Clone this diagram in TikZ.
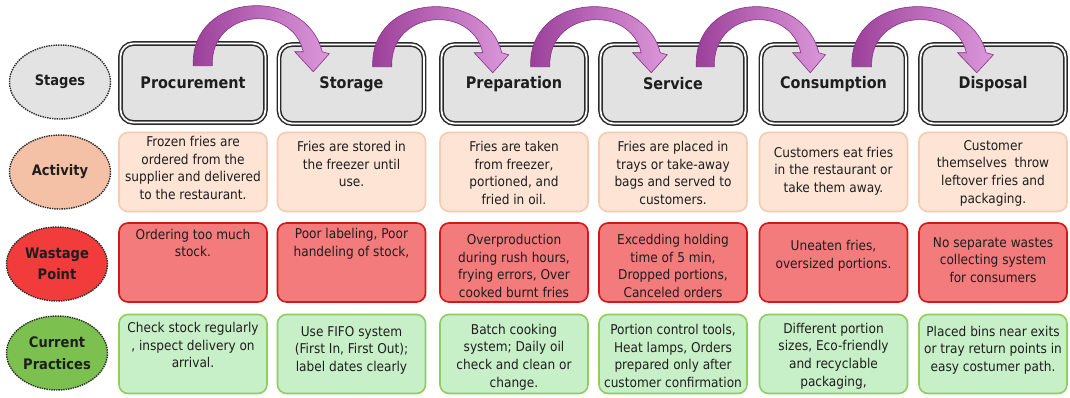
\documentclass[tikz,border=0pt]{standalone}
\usepackage{fontspec}
\setmainfont{DejaVu Sans Condensed}[BoldFont={DejaVu Sans Condensed Bold}]
\usetikzlibrary{shapes.geometric,calc}
\definecolor{txt}{HTML}{1E1E1E}
\definecolor{stagefill}{HTML}{E2E2E2}
\definecolor{stagedraw}{HTML}{2A2A2A}
\definecolor{actfill}{HTML}{FDE4D5}
\definecolor{actdraw}{HTML}{F6CBB2}
\definecolor{wasfill}{HTML}{F37B7B}
\definecolor{wasdraw}{HTML}{D21818}
\definecolor{prafill}{HTML}{C8F0C8}
\definecolor{pradraw}{HTML}{8FCD60}
\definecolor{ellgray}{HTML}{E3E3E3}
\definecolor{ellact}{HTML}{F5C1A6}
\definecolor{ellwas}{HTML}{F23B3B}
\definecolor{ellpra}{HTML}{7CC150}
\definecolor{arrL}{HTML}{9A3E98}
\definecolor{arrR}{HTML}{DC98DA}
\definecolor{arrD}{HTML}{87308A}
\begin{document}
\begin{tikzpicture}[x=1pt,y=-1pt,
  stagebox/.style={rectangle, rounded corners=13pt, draw=stagedraw, line width=1.5pt,
    double=white, double distance=1.8pt, fill=stagefill, minimum width=145pt,
    minimum height=79pt, inner sep=0pt, text=txt,
    font=\fontsize{16}{19}\selectfont\bfseries},
  cellbox/.style={rectangle, rounded corners=9pt, line width=1.6pt,
    minimum width=148pt, minimum height=79pt, inner sep=0pt},
  actbox/.style={cellbox, draw=actdraw, fill=actfill},
  wasbox/.style={cellbox, draw=wasdraw, fill=wasfill},
  prabox/.style={cellbox, draw=pradraw, fill=prafill},
  body/.style={align=center, inner sep=0pt, text=txt,
    font=\fontsize{13.5}{17.6}\selectfont},
  ell/.style={ellipse, draw=stagedraw, densely dotted, line width=1.4pt,
    minimum width=101pt, minimum height=74pt, inner sep=0pt, align=center,
    text=txt, font=\fontsize{14.5}{21.5}\selectfont\bfseries},
  flow/.style={draw=arrD, line width=0.6pt, left color=arrL, right color=arrR}
]
\fill[white] (0,0) rectangle (1070,398);
\useasboundingbox (0,0) rectangle (1070,398);

% row labels
\node[ell, fill=ellgray] (e1) at (60,82) {Stages};
\node[ell, fill=ellact]  (e2) at (60,172) {Activity};
\node[ell, fill=ellwas]  (e3) at (57,264) {Wastage\\Point};
\node[ell, fill=ellpra]  (e4) at (57,353) {Current\\Practices};

% stage boxes
\node[stagebox] (s1) at (193,83)   {Procurement};
\node[stagebox] (s2) at (351.5,84) {Storage};
\node[stagebox] (s3) at (514,84)   {Preparation};
\node[stagebox] (s4) at (673,84)   {Service};
\node[stagebox] (s5) at (833.5,84) {Consumption};
\node[stagebox] (s6) at (993,84)   {Disposal};

% activity row
\node[actbox] (a1) at (193,172)   {};
\node[actbox] (a2) at (351.5,172) {};
\node[actbox] (a3) at (514,172)   {};
\node[actbox] (a4) at (673,172)   {};
\node[actbox] (a5) at (833.5,172) {};
\node[actbox] (a6) at (993,172)   {};
\node[body] (a1t) at (193,168)   {Frozen fries are\\ordered from the\\supplier and delivered\\to the restaurant.};
\node[body] (a2t) at (351.5,164) {Fries are stored in\\the freezer until\\use.};
\node[body] (a3t) at (514,173)   {Fries are taken\\from freezer,\\portioned, and\\fried in oil.};
\node[body] (a4t) at (673,173)   {Fries are placed in\\trays or take-away\\bags and served to\\customers.};
\node[body] (a5t) at (833.5,171) {Customers eat fries\\in the restaurant or\\take them away.};
\node[body] (a6t) at (993,173)   {Customer\\themselves\ \ throw\\leftover fries and\\packaging.};

% wastage row
\node[wasbox] (w1) at (193,262.5)   {};
\node[wasbox] (w2) at (351.5,262.5) {};
\node[wasbox] (w3) at (514,262.5)   {};
\node[wasbox] (w4) at (673,262.5)   {};
\node[wasbox] (w5) at (833.5,262.5) {};
\node[wasbox] (w6) at (993,262.5)   {};
\node[body] (w1t) at (193,243)   {Ordering too much\\stock.};
\node[body] (w2t) at (351.5,244) {Poor labeling, Poor\\handeling of stock,};
\node[body] (w3t) at (514,266)   {Overproduction\\during rush hours,\\frying errors, Over\\cooked burnt fries};
\node[body] (w4t) at (673,266)   {Excedding holding\\time of 5 min,\\Dropped portions,\\Canceled orders};
\node[body] (w5t) at (833.5,256) {Uneaten fries,\\oversized portions.};
\node[body] (w6t) at (993,260)   {No separate wastes\\collecting system\\for consumers};

% practices row
\node[prabox] (p1) at (193,354)   {};
\node[prabox] (p2) at (351.5,354) {};
\node[prabox] (p3) at (514,354)   {};
\node[prabox] (p4) at (673,354)   {};
\node[prabox] (p5) at (833.5,354) {};
\node[prabox] (p6) at (993,354)   {};
\node[body] (p1t) at (193,345)   {Check stock regularly\\, inspect delivery on\\arrival.};
\node[body] (p2t) at (351.5,350) {Use FIFO system\\(First In, First Out);\\label dates clearly};
\node[body] (p3t) at (514,357)   {Batch cooking\\system; Daily oil\\check and clean or\\change.};
\node[body] (p4t) at (673,356)   {Portion control tools,\\Heat lamps, Orders\\prepared only after\\customer confirmation};
\node[body] (p5t) at (833.5,356) {Different portion\\sizes, Eco-friendly\\and recyclable\\packaging,};
\node[body] (p6t) at (993,350)   {Placed bins near exits\\or tray return points in\\easy costumer path.};

% curved flow arrows between stages
\foreach \a/\t/\d in {s1/83/110.5, s2/104/110.5, s3/99.5/111, s4/105.5/105, s5/101.5/115}{
  \begin{scope}[shift={($(\a.north west)+(\t,0)$)}, xscale=\d/110.5]
    \path[flow] (-9.5,23) .. controls (-12.5,-52) and (102.5,-57) .. (119.5,9)
      -- (126.5,11) -- (110.5,29) -- (92,9) -- (100.5,9)
      .. controls (89.5,-40) and (7.5,-34) .. (9.5,23) -- cycle;
  \end{scope}
}
\end{tikzpicture}
\end{document}
